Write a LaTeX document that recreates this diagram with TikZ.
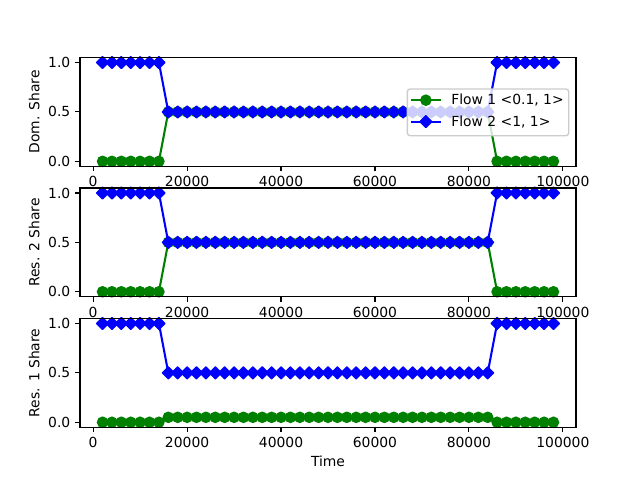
\documentclass[tikz,border=0pt]{standalone}
\usepackage{fontspec}
\setmainfont{DejaVu Sans}
\usetikzlibrary{shapes.geometric}
\definecolor{mgreen}{rgb}{0,0.5,0}
\definecolor{mblue}{rgb}{0,0,1}
\definecolor{legedge}{gray}{0.8}
\tikzset{
  gline/.style={draw=mgreen, line width=1.5bp, line join=round},
  bline/.style={draw=mblue, line width=1.5bp, line join=round},
  gmark/.style={circle, fill=mgreen, draw=mgreen, line width=1bp, inner sep=0pt, outer sep=0pt, minimum size=7.3bp},
  bmark/.style={diamond, shape aspect=1, fill=mblue, draw=mblue, line width=1bp, line join=round, inner sep=0pt, outer sep=0pt, minimum width=8.5bp, minimum height=8.5bp},
  spine/.style={draw=black, line width=0.8bp, line join=miter},
  tickmark/.style={draw=black, line width=0.8bp},
  ticklab/.style={inner sep=0pt, outer sep=0pt},
  legframe/.style={draw=legedge, line width=1bp, fill=white, fill opacity=0.8, rounded corners=2bp},
}
\begin{document}
\begin{tikzpicture}[x=0.72bp, y=-0.72bp, font=\fontsize{10.04pt}{12pt}\selectfont]
\useasboundingbox[fill=white] (0,0) rectangle (640,480);
\foreach \B/\mid/\lab [count=\k] in {166.28/0.5/Dom. Share, 296.70/0.5/Res. 2 Share, 427.2/0.05/Res. 1 Share} {
  \pgfmathsetmacro\T{\B-108.68}
  \pgfmathsetmacro\Z{\B-4.94}
  \pgfmathsetmacro\C{\B-54.34}
  \begin{scope}[shift={(93.1515,\Z)}, xscale=4.69697, yscale=-98.8]
    \draw[gline] (2,0) -- (14,0) -- (16,\mid) -- (84,\mid) -- (86,0) -- (98,0);
    \foreach \i in {1,...,49} {
      \pgfmathsetmacro\v{(\i<8 || \i>42) ? 0 : \mid}
      \node[gmark] (g\k-\i) at (2*\i,\v) {};
    }
    \draw[bline] (2,1) -- (14,1) -- (16,0.5) -- (84,0.5) -- (86,1) -- (98,1);
    \foreach \i in {1,...,49} {
      \pgfmathsetmacro\v{(\i<8 || \i>42) ? 1 : 0.5}
      \node[bmark] (b\k-\i) at (2*\i,\v) {};
    }
  \end{scope}
  \draw[spine] (80,\T) rectangle (576,\B);
  % x ticks
  \foreach \t/\tl in {0/0, 20/20000, 40/40000, 60/60000, 80/80000, 100/100000} {
    \pgfmathsetmacro\px{93.1515+4.69697*\t}
    \draw[tickmark] (\px,\B) -- (\px,\B+4.86);
    \node[ticklab, anchor=north] (xl\k-\t) at (\px,\B+10.1) {\tl};
  }
  % y ticks
  \foreach \yv/\yl in {0/0.0, 0.5/0.5, 1/1.0} {
    \pgfmathsetmacro\py{\Z-98.8*\yv}
    \draw[tickmark] (80,\py) -- (75.14,\py);
    \node[ticklab, anchor=east] (yl\k-\yl) at (70.28,\py) {\yl};
  }
  \node[ticklab, rotate=90, anchor=base] (ylab\k) at (39.3,\C) {\lab};
}
\node[ticklab, anchor=base] (xlab) at (328,466.7) {Time};
% legend
\draw[legframe] (407.3,89) rectangle (568.7,135.7);
\coordinate (l1a) at (411,100.2);
\coordinate (l1b) at (440.7,100.2);
\coordinate (l2a) at (411,121.6);
\coordinate (l2b) at (440.7,121.6);
\draw[gline] (l1a) -- (l1b);
\node[gmark] (lg) at (425.85,100.2) {};
\draw[bline] (l2a) -- (l2b);
\node[bmark] (lb) at (425.85,121.6) {};
\node[ticklab, anchor=base west] (lt1) at (451.3,104.9) {Flow 1 <0.1, 1>};
\node[ticklab, anchor=base west] (lt2) at (451.3,126.3) {Flow 2 <1, 1>};
\end{tikzpicture}
\end{document}
